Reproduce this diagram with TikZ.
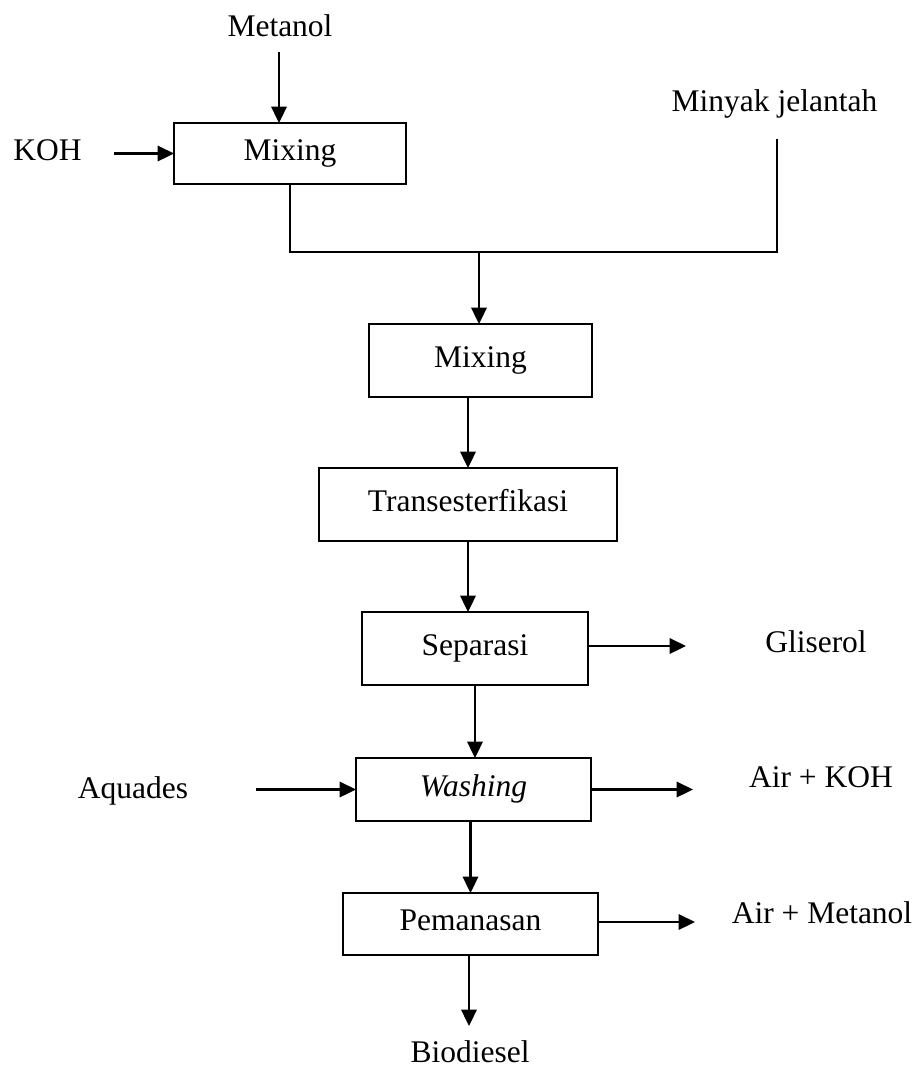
\documentclass[tikz,border=0pt]{standalone}
\usepackage{fontspec}
\setmainfont{Liberation Serif}
\usetikzlibrary{arrows.meta}
\newcommand{\PX}{0.381pt}

\begin{document}
\begin{tikzpicture}[x=\PX,y=-\PX,font=\fontsize{12}{14}\selectfont,
  >={Triangle[length=6.2pt,width=5.8pt]},
  proc/.style 2 args={draw,line width=0.95pt,inner sep=0pt,outer sep=0pt,
    minimum width=#1*\PX,minimum height=#2*\PX,text height=0.72em,text depth=0.22em},
  lbl/.style={anchor=base,inner sep=0pt},
  flow/.style={->,line width=0.95pt},
  pipe/.style={line width=0.95pt}]
\useasboundingbox (0,0) rectangle (917,1066);

% ---------------- feeds: catalyst mixing --------------------------------------
\node[lbl] (met) at (280,36) {Metanol};
\node[lbl] (koh) at (47.5,160) {KOH};
\node[lbl] (oil) at (774.5,111) {Minyak jelantah};
\node[proc={232}{61}] (mix1) at (290,153.5) {Mixing};

\coordinate (metout) at (279,52);
\coordinate (kohout) at (114,153.5);
\coordinate (oilout) at (777,139);
\coordinate (join) at (479,252);

\draw[flow] (metout) -- (metout |- mix1.north);
\draw[flow] (kohout) -- (mix1.west);
\draw[pipe] (mix1.south) |- (oilout |- join) -- (oilout);

% ---------------- main line -----------------------------------------------
\node[proc={223}{73}] (mix2) at (480.5,360.5) {Mixing};
\node[proc={298}{73}] (trans) at (468,504.5) {Transesterfikasi};
\node[proc={226}{73}] (sep) at (475,648.5) {Separasi};
\node[proc={235}{63}] (wash) at (473.5,789.5) {\textit{Washing}};
\node[proc={255}{62}] (heat) at (470.5,924) {Pemanasan};

\draw[flow] (join) -- (join |- mix2.north);
\draw[flow] (trans.north |- mix2.south) -- (trans.north);
\draw[flow] (trans.south) -- (trans.south |- sep.north);
\draw[flow] (sep.south) -- (sep.south |- wash.north);
\draw[flow] (heat.north |- wash.south) -- (heat.north);

% ---------------- side streams --------------------------------------------
\node[lbl] (gli) at (816,652) {Gliserol};
\node[lbl] (aq) at (133,798) {Aquades};
\node[lbl] (airkoh) at (821,787) {Air + KOH};
\node[lbl] (airmet) at (822,923) {Air + Metanol};
\node[lbl] (bio) at (470,1062) {Biodiesel};

\coordinate (glin) at (686,646);
\coordinate (aqout) at (256,789.5);
\coordinate (kohin) at (693,789.5);
\coordinate (metin) at (695,922);
\coordinate (bioin) at (469,1026);

\draw[flow] (sep.east |- glin) -- (glin);
\draw[flow] (aqout) -- (wash.west);
\draw[flow] (wash.east) -- (kohin);
\draw[flow] (heat.east |- metin) -- (metin);
\draw[flow] (heat.south -| bioin) -- (bioin);

\end{tikzpicture}
\end{document}
